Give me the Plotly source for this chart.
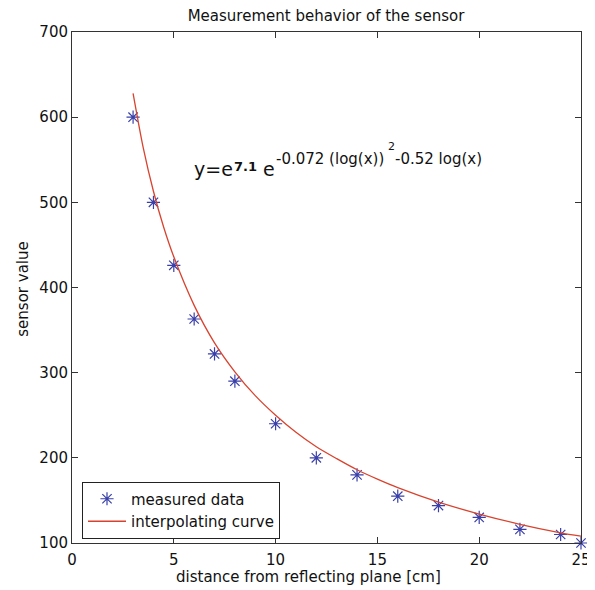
import plotly.graph_objects as go

# ---- data ----
x_measured = [3, 4, 5, 6, 7, 8, 10, 12, 14, 16, 18, 20, 22, 24, 25]
y_measured = [600, 500, 426, 363, 322, 290, 240, 200, 180, 155, 144, 130, 116, 110, 100]

x_curve = [3, 3.5, 4, 4.5, 5, 6, 7, 8, 9, 10, 11, 12, 13, 14, 15, 16, 18, 20, 22, 24, 25]
y_curve = [628, 564, 513, 471, 436, 379, 335, 301, 273, 250, 230, 213, 199, 186, 175, 165,
           148, 134, 122, 112, 108]

x_ticks = [0, 5, 10, 15, 20, 25]
y_ticks = [100, 200, 300, 400, 500, 600, 700]

FONT = "DejaVu Sans"
BLUE = "#3a40a8"
RED = "#d8432e"
AXC = "#333333"

# the page body has an 8px margin, so the figure is drawn 8px in from the window edge
OFF = 8
W, H = 595 - OFF, 590 - OFF
# plot area in window pixels: x 72..581, y 32..543
L, R, T, B = 72 - OFF, 595 - 581, 32 - OFF, 590 - 543
PW, PH = W - L - R, H - T - B


def px(xp):
    """window pixel x -> paper x"""
    return (xp - OFF - L) / PW


def py(yp):
    """window pixel y -> paper y"""
    return (H - B - (yp - OFF)) / PH


fig = go.Figure()
fig.add_trace(go.Scatter(
    x=x_measured, y=y_measured, mode="markers", name="measured data",
    marker=dict(symbol="asterisk-open", size=11, color=BLUE,
                line=dict(color=BLUE, width=1.2)),
    cliponaxis=False,
))
fig.add_trace(go.Scatter(
    x=x_curve, y=y_curve, mode="lines", name="interpolating curve",
    line=dict(color=RED, width=1.3, shape="spline", smoothing=0.8),
))

axis_common = dict(
    showgrid=False, zeroline=False, showline=True, linecolor=AXC, linewidth=1,
    mirror="ticks", ticks="inside", ticklen=6, tickcolor=AXC, tickwidth=1,
    tickfont=dict(family=FONT, size=15, color="#111"), automargin=False,
)
fig.update_xaxes(range=[0, 25], tickvals=x_ticks, ticklabelstandoff=3, **axis_common)
fig.update_yaxes(range=[100, 700], tickvals=y_ticks, **axis_common)

ann = []
# axis titles
ann.append(dict(text="distance from reflecting plane [cm]", xref="paper", yref="paper",
                x=px(308), y=py(576.5), xanchor="center", yanchor="middle", showarrow=False,
                font=dict(family=FONT, size=15, color="#111")))
ann.append(dict(text="sensor value", xref="paper", yref="paper", textangle=-90,
                x=px(22.7), y=py(289), xanchor="center", yanchor="middle", showarrow=False,
                font=dict(family=FONT, size=15, color="#111")))
# formula
ann.append(dict(text="y=e", xref="paper", yref="paper", x=px(192), y=py(169.4),
                xanchor="left", yanchor="middle", showarrow=False,
                font=dict(family=FONT, size=19, color="#111")))
ann.append(dict(text="<b>7.1</b>", xref="paper", yref="paper", x=px(231.5), y=py(166.5),
                xanchor="left", yanchor="middle", showarrow=False,
                font=dict(family=FONT, size=13, color="#111")))
ann.append(dict(text="e", xref="paper", yref="paper", x=px(260.5), y=py(169.4),
                xanchor="left", yanchor="middle", showarrow=False,
                font=dict(family=FONT, size=19, color="#111")))
ann.append(dict(text="-0.072 (log(x))", xref="paper", yref="paper", x=px(274), y=py(158.5),
                xanchor="left", yanchor="middle", showarrow=False,
                font=dict(family=FONT, size=15, color="#111")))
ann.append(dict(text="2", xref="paper", yref="paper", x=px(386), y=py(146.5),
                xanchor="left", yanchor="middle", showarrow=False,
                font=dict(family=FONT, size=11, color="#111")))
ann.append(dict(text="-0.52 log(x)", xref="paper", yref="paper", x=px(393), y=py(158.5),
                xanchor="left", yanchor="middle", showarrow=False,
                font=dict(family=FONT, size=15, color="#111")))

fig.update_layout(
    template="none",
    width=W, height=H,
    margin=dict(l=L, r=R, t=T, b=B, autoexpand=False),
    paper_bgcolor="white", plot_bgcolor="white",
    title=dict(text="Measurement behavior of the sensor", x=px(326), xref="paper",
               xanchor="center", y=1 - 2.0 / H, yref="container", yanchor="top",
               pad=dict(t=0, b=0, l=0, r=0),
               font=dict(family=FONT, size=15, color="#111")),
    showlegend=True,
    legend=dict(x=px(82), y=py(510), xanchor="left", yanchor="middle",
                bgcolor="white", bordercolor="#222", borderwidth=1,
                font=dict(family=FONT, size=15, color="#111"),
                itemwidth=38, tracegroupgap=0),
    annotations=ann,
)

fig.write_html("out.html")
